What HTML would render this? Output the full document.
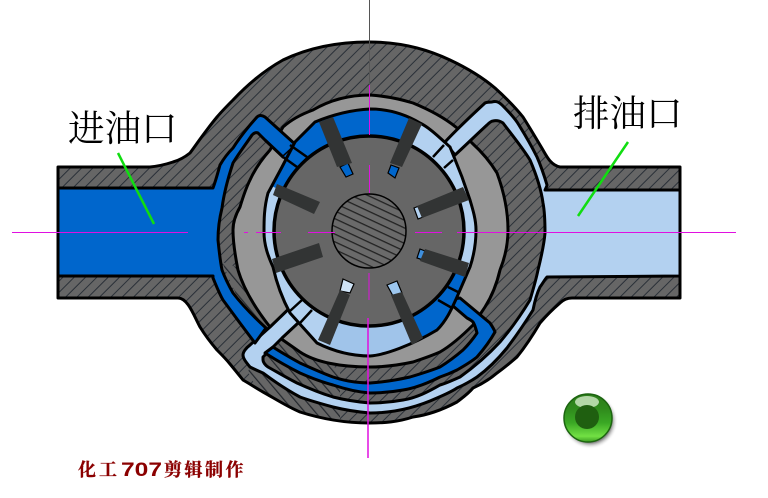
<!DOCTYPE html>
<html><head><meta charset="utf-8">
<style>
html,body{margin:0;padding:0;background:#fff;width:768px;height:498px;overflow:hidden}
svg{display:block}
</style></head>
<body>
<svg width="768" height="498" viewBox="0 0 768 498" xmlns="http://www.w3.org/2000/svg">
<defs>
<pattern id="h" width="8" height="8" patternUnits="userSpaceOnUse" patternTransform="rotate(45)">
<rect width="8" height="8" fill="#666"/><rect x="0" width="1" height="8" fill="#2a3038"/>
</pattern>
<pattern id="h2" width="8" height="8" patternUnits="userSpaceOnUse" patternTransform="rotate(-40)">
<rect width="8" height="8" fill="#666"/><rect x="0" width="1.2" height="8" fill="#22262c"/>
</pattern>
<pattern id="s" width="7" height="7" patternUnits="userSpaceOnUse" patternTransform="rotate(25)">
<rect width="7" height="7" fill="#6a6a6a"/><rect y="0" width="7" height="1.3" fill="#222"/>
</pattern>
<linearGradient id="g" x1="0" y1="0" x2="0" y2="1">
<stop offset="0" stop-color="#2c7c1a"/><stop offset=".3" stop-color="#2f8a1c"/><stop offset=".6" stop-color="#3aa824"/><stop offset=".88" stop-color="#72e044"/><stop offset="1" stop-color="#3c9c22"/>
</linearGradient>
<radialGradient id="sh" cx="50%" cy="50%" r="50%">
<stop offset=".78" stop-color="#888"/><stop offset="1" stop-color="#fff" stop-opacity="0"/>
</radialGradient>
<clipPath id="bodyclip"><path d="M58 167 L150 167 C160 166 167 164 173 162 C180 160 185 157 190 153 C198 142 207 129 217 117 C222 111 228 105 233 100 C250 82 265 70 283 60 C310 47 340 42 369 42 C398 42 425 48 450 60 C467 68 482 77 495 88 C505 97 515 107 523 117 C530 128 537 140 543 150 C547 157 551 165 560 167 L680 167 L680 298 L572 298 C566 298 562 301 560 303 C553 309 546 316 540 323 C533 335 525 347 517 357 C510 363 504 368 497 373 C490 379 482 384 473 388 C468 394 462 398 457 402 C442 410 428 415 413 417 C398 422 384 423 369 423 C345 423 322 419 300 412 C286 406 274 398 263 392 C256 388 250 384 243 380 C239 375 235 370 230 364 C226 359 221 354 217 350 C211 343 205 335 200 327 C194 316 188 298 178 298 L58 298Z"/></clipPath>
<clipPath id="cam"><path d="M370 109 C350 110 332 115 315 122 L295 142 L282 167 L268 193 C264 208 264 220 264 232 C264 245 268 256 273 267 C277 285 283 300 290 313 L317 343 C335 352 352 356 370 356 C385 355 412 345 437 330 C447 320 452 308 457 297 L470 267 C474 255 476 243 476 230 C476 220 473 210 470 200 L462 177 L450 147 C440 138 430 128 420 123 C405 114 388 109 370 109Z"/></clipPath>
</defs>

<!-- body -->
<path d="M58 167 L150 167 C160 166 167 164 173 162 C180 160 185 157 190 153 C198 142 207 129 217 117 C222 111 228 105 233 100 C250 82 265 70 283 60 C310 47 340 42 369 42 C398 42 425 48 450 60 C467 68 482 77 495 88 C505 97 515 107 523 117 C530 128 537 140 543 150 C547 157 551 165 560 167 L680 167 L680 298 L572 298 C566 298 562 301 560 303 C553 309 546 316 540 323 C533 335 525 347 517 357 C510 363 504 368 497 373 C490 379 482 384 473 388 C468 394 462 398 457 402 C442 410 428 415 413 417 C398 422 384 423 369 423 C345 423 322 419 300 412 C286 406 274 398 263 392 C256 388 250 384 243 380 C239 375 235 370 230 364 C226 359 221 354 217 350 C211 343 205 335 200 327 C194 316 188 298 178 298 L58 298Z" fill="url(#h)"/>
<polygon clip-path="url(#bodyclip)" points="222,262 245,270 290,345 340,370 340,426 300,416 262,398 248,372 258,345" fill="url(#h2)"/>
<path d="M58 167 L150 167 C160 166 167 164 173 162 C180 160 185 157 190 153 C198 142 207 129 217 117 C222 111 228 105 233 100 C250 82 265 70 283 60 C310 47 340 42 369 42 C398 42 425 48 450 60 C467 68 482 77 495 88 C505 97 515 107 523 117 C530 128 537 140 543 150 C547 157 551 165 560 167 L680 167 L680 298 L572 298 C566 298 562 301 560 303 C553 309 546 316 540 323 C533 335 525 347 517 357 C510 363 504 368 497 373 C490 379 482 384 473 388 C468 394 462 398 457 402 C442 410 428 415 413 417 C398 422 384 423 369 423 C345 423 322 419 300 412 C286 406 274 398 263 392 C256 388 250 384 243 380 C239 375 235 370 230 364 C226 359 221 354 217 350 C211 343 205 335 200 327 C194 316 188 298 178 298 L58 298Z" fill="none" stroke="#000" stroke-width="3" stroke-linejoin="round"/>

<!-- gray ring -->
<path d="M370 95 C385 96 400 99 413 103 C430 110 445 118 457 128 L472 143 C483 153 491 163 497 173 C504 192 508 210 508 230 C508 241 506 255 500 270 C497 283 492 296 485 307 L473 325 C463 335 452 345 440 352 C431 356 422 359 413 362 C399 365 385 367 370 367 C340 367 315 362 300 352 L280 338 L270 327 C255 308 244 290 238 270 C235 255 233 243 233 230 C233 222 236 214 240 207 C243 197 246 188 250 180 C255 169 262 159 270 150 L283 127 C292 119 302 114 313 110 C330 100 350 95 370 95Z" fill="#979797" stroke="#000" stroke-width="3" stroke-linejoin="round"/>

<!-- light-blue discharge channel -->
<path d="M680 190 L545 190 C546 188 547 186 547 185 C544 175 541 166 537 157 C531 145 524 133 517 122 C512 115 507 110 502 105 C498 101 495 101 492 102 C489 102 487 102 485 103 C472 115 458 128 445 142 L455 155 C466 145 476 135 487 125 C489 123 491 121 493 121 C497 120 500 121 503 123 C512 135 522 147 530 160 C536 174 541 188 543 203 C545 213 545 223 545 233 C544 245 541 258 538 270 C536 280 533 290 530 300 C521 315 511 329 500 342 C488 355 474 367 460 377 C453 380 447 383 440 385 C428 392 416 398 403 400 C392 402 381 403 370 403 C358 402 345 400 333 397 C320 393 308 388 297 383 C287 378 277 372 268 367 C265 365 263 362 263 360 L263 357 L282 338 L312 310 L300 298 L270 327 L250 345 C246 348 243 352 243 355 C243 358 245 361 250 367 C254 369 258 371 263 373 C275 382 287 390 300 397 C311 401 322 404 333 407 C345 410 358 412 370 413 C392 413 415 408 437 398 C444 395 451 392 457 388 C464 385 471 381 477 377 C488 369 498 359 507 348 C516 336 525 323 533 310 C535 300 537 293 540 287 C543 283 545 279 547 277 L680 276Z" fill="#b3d1f0" stroke="#000" stroke-width="3" stroke-linejoin="round"/>

<!-- blue channel left -->
<path d="M58 188 L213 188 C216 180 218 172 220 165 C224 158 228 153 233 148 C240 137 248 127 257 117 C259 115 262 115 265 117 L296 145 L283 157 L265 140 L258 133 C256 132 254 133 252 135 C246 144 239 153 233 163 C228 178 224 193 222 208 C219 220 218 232 218 240 C219 250 220 260 222 270 C225 278 229 286 233 293 C243 306 254 317 266 328 L255 343 C245 330 234 315 223 300 C219 293 216 285 213 278 L213 276 L58 276Z" fill="#0066cc" stroke="#000" stroke-width="3" stroke-linejoin="round"/>

<!-- blue channel bottom -->
<path d="M460 298 L490 323 C492 326 494 329 495 332 C490 341 484 349 477 357 C471 362 464 366 457 370 C451 373 446 375 440 377 C428 383 416 388 403 390 C392 392 381 393 370 393 C357 392 345 389 333 385 C322 382 311 378 300 373 C288 367 276 360 265 353 L273 347 C282 353 291 358 300 363 C311 368 322 373 333 377 C345 381 357 383 370 383 C384 382 397 380 410 377 C420 374 430 371 440 367 C448 362 456 356 463 350 C468 345 473 339 477 333 C476 329 475 325 473 322 C471 320 469 319 467 318 L446 300Z" fill="#0066cc" stroke="#000" stroke-width="3" stroke-linejoin="round"/>

<!-- cam chamber -->
<rect x="250" y="95" width="240" height="275" fill="#b3d1f0" clip-path="url(#cam)"/>
<g clip-path="url(#cam)">
<polygon points="369,231 250,176 250,90 425,90 416,120" fill="#0066cc"/>
<polygon points="369,231 490,280 490,380 433,375" fill="#0066cc"/>
<polygon points="369,231 418,342 433,375 305,375 329,342" fill="#a0c4ea"/>
</g>

<!-- ports -->
<polygon points="296,145 283,157 297,167 307,157" fill="#0066cc"/>
<polygon points="443,142 453,155 444,168 433,157" fill="#b3d1f0"/>
<polygon points="300,298 312,310 300,323 290,311" fill="#b3d1f0"/>
<polygon points="458,292 452,308 438,300 448,287" fill="#0066cc"/>

<path d="M370 109 C350 110 332 115 315 122 L295 142 L282 167 L268 193 C264 208 264 220 264 232 C264 245 268 256 273 267 C277 285 283 300 290 313 L317 343 C335 352 352 356 370 356 C385 355 412 345 437 330 C447 320 452 308 457 297 L470 267 C474 255 476 243 476 230 C476 220 473 210 470 200 L462 177 L450 147 C440 138 430 128 420 123 C405 114 388 109 370 109Z" fill="none" stroke="#000" stroke-width="3"/>
<g stroke="#000" stroke-width="2.5" fill="none">
<path d="M290 145 L307 157 M283 157 L297 167"/>
<path d="M433 157 L444 145 M444 168 L453 160"/>
<path d="M290 311 L302 300 M300 323 L312 310"/>
<path d="M448 287 L458 292 M438 300 L452 308"/>
</g>

<!-- rotor -->
<circle cx="369" cy="231" r="95" fill="#666" stroke="#000" stroke-width="3.5"/>
<circle cx="369" cy="231" r="37" fill="url(#s)" stroke="#000" stroke-width="1.5"/>

<!-- vane tips -->
<g stroke="#000" stroke-width="1.2">
<polygon points="340,167 348,163 353,174 346,177" fill="#0066cc"/>
<polygon points="391,165 399,168 395,178 388,173" fill="#0066cc"/>
<polygon points="414,208 419,206 423,217 418,219" fill="#b3d1f0"/>
<polygon points="420,249 425,251 423,260 417,258" fill="#3f8fdc"/>
<polygon points="387,285 397,281 402,293 393,296" fill="#9cc6ee"/>
<polygon points="343,279 354,284 350,293 340,291" fill="#cfe3f6"/>
</g>
<!-- vanes -->
<g fill="#323434">
<polygon points="319,122 333,117 352,163 337,167"/>
<polygon points="277,184 320,202 314,214 273,195"/>
<polygon points="409,118 422,124 402,167 390,163"/>
<polygon points="463,187 469,200 422,218 417,206"/>
<polygon points="425,249 469,263 465,277 420,261"/>
<polygon points="391,295 402,292 423,338 412,345"/>
<polygon points="340,290 350,295 330,345 318,340"/>
<polygon points="319,243 323,257 276,273 272,259"/>
</g>

<!-- center lines -->
<g stroke="#e010e0" stroke-width="1" fill="none">
<path d="M12 232.5 H188 M244 232.5 H248 M256 232.5 H281 M308 232.5 H335 M415 232.5 H442 M457 232.5 H736"/>
<path d="M369.5 85 V135 M369.5 165 V193 M369 273 V300"/>
<path d="M368 318 V458" stroke-width="1.5"/>
</g>
<path d="M369.5 0 V85" stroke="#555" stroke-width="1" fill="none"/>

<!-- leaders -->
<path d="M118 153 L154 224 M628 142 L578 216" stroke="#11dd11" stroke-width="2.5" fill="none"/>

<!-- labels -->
<text x="68" y="141" font-family="'Liberation Serif','Noto Serif CJK SC',serif" font-size="36.5" fill="#000">进油口</text>
<text x="573" y="126" font-family="'Liberation Serif','Noto Serif CJK SC',serif" font-size="36.5" fill="#000">排油口</text>

<!-- ball -->
<circle cx="590" cy="421" r="28" fill="url(#sh)"/>
<circle cx="588" cy="418" r="24" fill="url(#g)" stroke="#1c6410" stroke-width="1.5"/>
<ellipse cx="587" cy="402" rx="12" ry="6" fill="#d4ecca" opacity=".8"/>
<circle cx="587" cy="417" r="12" fill="#1f5f10"/>

<!-- title -->
<g font-family="'Liberation Serif','Noto Serif CJK SC',serif" font-size="18" font-weight="700" fill="#8b0000" stroke="#8b0000" stroke-width=".3">
<text x="78" y="476" letter-spacing="3">化工</text>
<text x="164" y="476" letter-spacing="2.5">剪辑制作</text>
</g>
<text x="121" y="476" font-family="'Liberation Sans',sans-serif" font-size="19.5" font-weight="700" fill="#8b0000" textLength="41" lengthAdjust="spacingAndGlyphs">707</text>
</svg>
</body></html>
